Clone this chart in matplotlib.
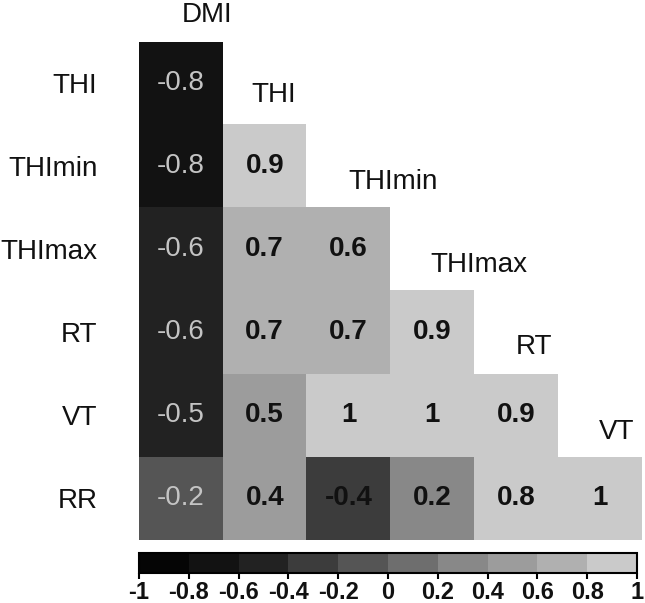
import numpy as np
import matplotlib.pyplot as plt
from matplotlib.colors import ListedColormap, BoundaryNorm

plt.rcParams['font.family'] = ['Liberation Sans', 'DejaVu Sans']

# ------------------------------------------------------------
# Data: lower-triangular correlation table
# ------------------------------------------------------------
row_labels = ["THI", "THImin", "THImax", "RT", "VT", "RR"]
col_labels = ["DMI", "THI", "THImin", "THImax", "RT", "VT"]

r_thi    = [-0.8]
r_thimin = [-0.8, 0.9]
r_thimax = [-0.6, 0.7, 0.6]
r_rt     = [-0.6, 0.7, 0.7, 0.9]
r_vt     = [-0.5, 0.5, 1, 1, 0.9]
r_rr     = [-0.2, 0.4, -0.4, 0.2, 0.8, 1]
rows = [r_thi, r_thimin, r_thimax, r_rt, r_vt, r_rr]

cbar_ticks = [-1, -0.8, -0.6, -0.4, -0.2, 0, 0.2, 0.4, 0.6, 0.8, 1]
gray_levels = ['#050505', '#121212', '#222222', '#3c3c3c', '#555555',
               '#6e6e6e', '#888888', '#9c9c9c', '#b0b0b0', '#cacaca']

n = len(row_labels)
mat = np.full((n, n), np.nan)
for i, r in enumerate(rows):
    mat[i, :len(r)] = r
mat = np.ma.masked_invalid(mat)

cmap = ListedColormap(gray_levels)
cmap.set_over(gray_levels[-1])
cmap.set_under(gray_levels[0])
cmap.set_bad((1, 1, 1, 0))
bounds = np.round(np.linspace(-1, 1, 11), 1)
norm = BoundaryNorm(bounds, cmap.N)

FS = 20

# ------------------------------------------------------------
# Figure
# ------------------------------------------------------------
fig = plt.figure(figsize=(6.45, 6.03), dpi=100)
ax = fig.add_axes([0.2155, 0.1045, 0.7798, 0.8259])
im = ax.imshow(mat, cmap=cmap, norm=norm, aspect='auto',
               interpolation='nearest')
ax.set_xlim(-0.5, n - 0.5)
ax.set_ylim(n - 0.5, -0.5)
for s in ax.spines.values():
    s.set_visible(False)
ax.set_xticks([])
ax.set_yticks(range(n))
ax.set_yticklabels(row_labels, fontsize=FS, color='#111111')
ax.tick_params(axis='y', length=0, pad=30)

# cell values
for i, r in enumerate(rows):
    for j, v in enumerate(r):
        txt = f"{v:g}"
        if j == 0:
            ax.text(j, i, txt, ha='center', va='center', fontsize=FS,
                    color='#c4c4c4')
        else:
            ax.text(j, i, txt, ha='center', va='center', fontsize=FS,
                    color='#111111', fontweight='bold')

# column headers, placed along the diagonal
header_pos = [(0.31, -0.83), (1.11, 0.14), (2.53, 1.19),
              (3.56, 2.19), (4.21, 3.17), (5.2, 4.2)]
for lab, (x, y) in zip(col_labels, header_pos):
    ax.text(x, y, lab, ha='center', va='center', fontsize=FS,
            color='#111111', clip_on=False)

# colorbar
cax = fig.add_axes([0.2155, 0.0498, 0.772, 0.0332])
cb = fig.colorbar(im, cax=cax, orientation='horizontal', ticks=cbar_ticks)
cb.outline.set_linewidth(1.5)
cb.ax.set_xticklabels([f"{t:g}" for t in cbar_ticks], fontsize=17,
                      fontweight='bold', color='#111111')
cb.ax.tick_params(axis='x', length=4, width=1.5, pad=2)

fig.savefig("out.png", dpi=100)
